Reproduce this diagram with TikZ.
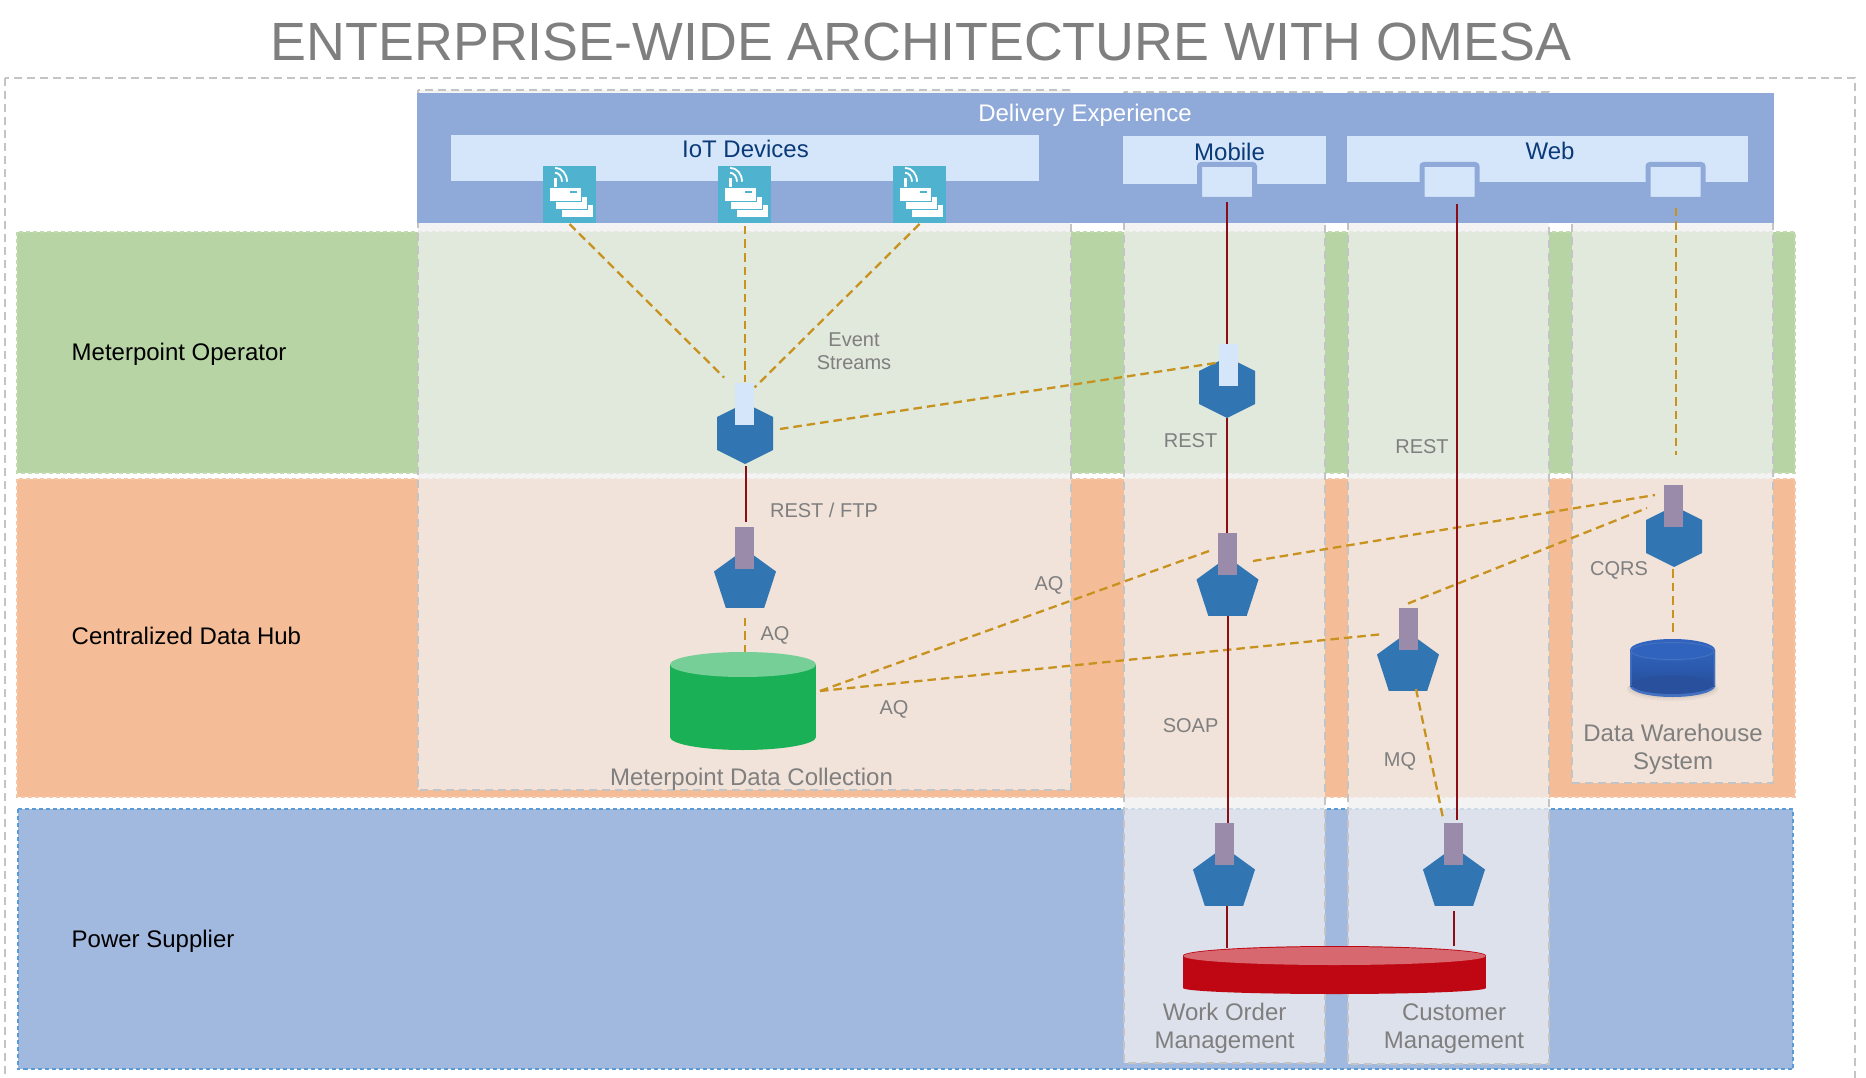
\documentclass[tikz,border=0pt]{standalone}
\usepackage{fontspec}
\setmainfont{Liberation Sans}
\usetikzlibrary{calc,shapes.geometric}
\definecolor{bandblue}{HTML}{8FA9D9}
\definecolor{lightbox}{HTML}{D5E6FB}
\definecolor{navytxt}{HTML}{0B3A78}
\definecolor{greentone}{HTML}{B7D4A4}
\definecolor{orangetone}{HTML}{F4BD98}
\definecolor{bluetone}{HTML}{A1B8DF}
\definecolor{bluedash}{HTML}{5B9BD5}
\definecolor{framegray}{HTML}{C4C4C4}
\definecolor{overlaygray}{HTML}{F0F0F0}
\definecolor{graytxt}{HTML}{7F7F7F}
\definecolor{teal}{HTML}{4FB3CF}
\definecolor{svcblue}{HTML}{3275B3}
\definecolor{purpletab}{HTML}{9B8BAB}
\definecolor{linkred}{HTML}{8B0E16}
\definecolor{linkgold}{HTML}{C8921E}
\definecolor{cylgreen}{HTML}{1AB055}
\definecolor{cylgreentop}{HTML}{75CF97}
\definecolor{cylred}{HTML}{BE0712}
\definecolor{cylredtop}{HTML}{D7686F}
\definecolor{cylblue}{HTML}{2F63BD}
\definecolor{cylbluedark}{HTML}{28509C}
\definecolor{cylbluerim}{HTML}{4470C0}
\tikzset{
  lane/.style={inner sep=0pt,outer sep=0pt,line width=1.5pt,dash pattern=on 4pt off 3pt},
  column/.style={draw=framegray,fill=overlaygray,fill opacity=.75,line width=1.5pt,dash pattern=on 8pt off 5pt},
  hostbox/.style={fill=lightbox,inner sep=0pt,outer sep=0pt},
  uisq/.style={fill=lightbox,draw=bandblue,line width=5pt,rounded corners=2pt,inner sep=0pt,outer sep=0pt,minimum width=55pt,minimum height=35pt},
  tabnode/.style={inner sep=0pt,outer sep=0pt,minimum width=19pt,minimum height=42pt},
  hexnode/.style={inner sep=0pt,outer sep=0pt,minimum width=56pt,minimum height=61pt},
  pentnode/.style={regular polygon,regular polygon sides=5,minimum size=65.2pt,inner sep=0pt,outer sep=0pt,fill=svcblue},
  iconnode/.style={fill=teal,inner sep=0pt,outer sep=0pt,minimum width=53pt,minimum height=57pt},
  cylnode/.style={inner sep=0pt,outer sep=0pt},
  dl/.style={draw=linkgold,line width=2.3pt,dash pattern=on 8.5pt off 5pt},
  dlv/.style={draw=linkgold,line width=2pt,dash pattern=on 8.5pt off 5pt},
  rl/.style={draw=linkred,line width=2pt},
  lbl/.style={text=graytxt,inner sep=0pt,align=center,font=\fontsize{20}{23}\selectfont},
  lblbig/.style={text=graytxt,inner sep=0pt,align=center,font=\fontsize{24}{28}\selectfont},
  lanelbl/.style={text=black,inner sep=0pt,anchor=west,font=\fontsize{24}{28}\selectfont},
  navylbl/.style={text=navytxt,inner sep=0pt,font=\fontsize{24}{28}\selectfont}
}
\newcommand{\hexfill}[1]{\fill[svcblue] (#1.north) -- ($(#1.north east)+(0,14)$) -- ($(#1.south east)+(0,-14)$) -- (#1.south) -- ($(#1.south west)+(0,-14)$) -- ($(#1.north west)+(0,14)$) -- cycle;}
\newcommand{\glyph}[1]{%
  \begin{scope}[shift={(#1.north west)}]
    \draw[white,line width=1.8pt] (12,6.7) .. controls (16,6.7) and (19,11) .. (19,15.7);
    \draw[white,line width=1.8pt] (12,1.8) .. controls (19,1.8) and (24,8) .. (24,15.7);
    \fill[white] (11,12.3) rectangle (13.7,23);
    \fill[white,draw=teal,line width=.8pt] (18,38) rectangle (50.5,51);
    \fill[white,draw=teal,line width=.8pt] (12,30) rectangle (44.5,43);
    \fill[white,draw=teal,line width=.8pt] (6,21.5) rectangle (38.5,35);
    \fill[teal] (27,25.5) rectangle (34,27.5);
  \end{scope}}
\begin{document}
\begin{tikzpicture}[x=1pt,y=-1pt]
\useasboundingbox (0,0) rectangle (1866,1078);
\clip (0,0) rectangle (1866,1078);
\fill[white] (0,0) rectangle (1866,1078);
% title and frame
\node[text=graytxt,inner sep=0pt,font=\fontsize{53.8}{60}\selectfont] (title) at (921,42) {ENTERPRISE-WIDE ARCHITECTURE WITH OMESA};
\draw[draw=framegray,line width=1.5pt,dash pattern=on 8pt off 5pt] (5,78) rectangle (1855,1090);
% lanes
\draw[lane,draw=greentone!85!white,fill=greentone] (17,232) rectangle (1795,473);
\draw[lane,draw=orangetone!85!white,fill=orangetone] (17,479) rectangle (1795,797);
\draw[lane,draw=bluedash,fill=bluetone,line width=2pt] (17.5,809) rectangle (1793,1069);
% columns
\draw[column] (418,90) rectangle (1071,790);
\draw[column] (1124,92) rectangle (1325,1063);
\draw[column] (1348,92) rectangle (1549,1064);
\draw[column] (1572,120) rectangle (1773,783);
% delivery band
\node[fill=bandblue,inner sep=0pt,outer sep=0pt,minimum width=1357pt,minimum height=130.5pt] (band) at (1095.5,158) {};
\node[text=white,inner sep=0pt,font=\fontsize{24}{28}\selectfont] (bandtxt) at (1085,115.4) {Delivery Experience};
\node[hostbox,minimum width=588pt,minimum height=46pt] (iot) at (745,158) {};
\node[navylbl] (iottxt) at (745.5,149) {IoT Devices};
\node[hostbox,minimum width=203pt,minimum height=48pt] (mobile) at (1224.5,160) {};
\node[navylbl] (mobtxt) at (1229.5,152) {Mobile};
\node[hostbox,minimum width=401pt,minimum height=46pt] (web) at (1547.5,159) {};
\node[navylbl] (webtxt) at (1550,151) {Web};
\node[uisq] (msq) at (1227,182) {};
\node[uisq] (wsq1) at (1449.5,182) {};
\node[uisq] (wsq2) at (1675.5,182) {};
% icons
\node[iconnode] (icon1) at (569.5,194.5) {};
\node[iconnode] (icon2) at (744.5,194.5) {};
\node[iconnode] (icon3) at (919.5,194.5) {};
\glyph{icon1}\glyph{icon2}\glyph{icon3}
% services
\node[hexnode] (hex1) at (745,433.5) {};
\hexfill{hex1}
\node[tabnode,fill=lightbox] (tab1) at (744.5,403.5) {};
\node[hexnode] (hex2) at (1227,387.5) {};
\hexfill{hex2}
\node[tabnode,fill=lightbox] (tab2) at (1228,365) {};
\node[hexnode] (hex3) at (1674,536.5) {};
\hexfill{hex3}
\node[tabnode,fill=purpletab] (tabh3) at (1673.5,506) {};
\node[pentnode] (pent1) at (745,581.6) {};
\node[tabnode,fill=purpletab] (tabp1) at (744.5,548) {};
\node[pentnode] (pent2) at (1227.5,589.6) {};
\node[tabnode,fill=purpletab] (tabp2) at (1227.5,554) {};
\node[pentnode] (pent3) at (1408,664.6) {};
\node[tabnode,fill=purpletab] (tabp3) at (1408.5,628.5) {};
\node[pentnode] (pent4) at (1224,879.6) {};
\node[tabnode,fill=purpletab] (tabp4) at (1224.5,844) {};
\node[pentnode] (pent5) at (1454,879.6) {};
\node[tabnode,fill=purpletab] (tabp5) at (1453.5,844) {};
% green cylinder
\node[cylnode,minimum width=146pt,minimum height=98pt] (gcyl) at (743,701) {};
\fill[cylgreen] (670,664.5) rectangle (816,737);
\fill[cylgreen] (743,737) ellipse [x radius=73pt,y radius=13pt];
\fill[cylgreentop] (743,664.5) ellipse [x radius=73pt,y radius=12.5pt];
% red cylinder
\node[cylnode,minimum width=303pt,minimum height=48pt] (rcyl) at (1334.5,970) {};
\fill[cylred] (1183,955.5) rectangle (1486,988);
\fill[cylred] (1334.5,988) ellipse [x radius=151.5pt,y radius=6pt];
\fill[cylred] (1334.5,955.5) ellipse [x radius=151.5pt,y radius=9.5pt];
\fill[cylredtop] (1334.5,956) ellipse [x radius=151pt,y radius=9pt];
% blue cylinder
\node[cylnode,minimum width=85pt,minimum height=58pt] (bcyl) at (1672.5,668) {};
\fill[black,opacity=.04] (1672.5,689) ellipse [x radius=46pt,y radius=12pt];
\fill[black,opacity=.05] (1672.5,688) ellipse [x radius=44pt,y radius=10.5pt];
\fill[cylbluerim] (1672.5,686) ellipse [x radius=42.5pt,y radius=11pt];
\fill[cylbluedark] (1672.5,684.5) ellipse [x radius=41pt,y radius=9.5pt];
\shade[top color=cylblue,bottom color=cylbluedark] (1630,650) rectangle (1715,686);
\fill[cylbluedark] (1672.5,684.5) ellipse [x radius=41pt,y radius=9pt];
\fill[cylbluerim] (1630,650) rectangle (1631.5,686) (1713.5,650) rectangle (1715,686);
\fill[cylblue] (1672.5,650) ellipse [x radius=42.5pt,y radius=11pt];
\draw[cylbluerim,line width=1pt] (1672.5,651) ellipse [x radius=41.5pt,y radius=8.5pt];
% dashed connectors
\draw[dl] ($(icon1.south)+(0,1)$) -- ($(tab1.north west)+(-11,-5)$);
\draw[dlv] ($(icon2.south)+(.5,3)$) -- ($(tab1.north)+(.5,-1)$);
\draw[dl] ($(icon3.south)+(0,1)$) -- ($(tab1.north east)+(.6,5)$);
\draw[dl] ($(hex1.east)+(7,-4.5)$) -- ($(tab2.west)+(-3,-2)$);
\draw[dlv] ($(pent1.south)+(0,10)$) -- (pent1.south |- gcyl.north);
\draw[dl] ($(gcyl.east)+(4,-10)$) -- ($(tabp2.west)+(-9,-3)$);
\draw[dl] ($(gcyl.east)+(4,-10)$) -- ($(tabp3.west)+(-15,5.5)$);
\draw[dl] ($(tabp2.east)+(16,7)$) -- ($(tabh3.west)+(-9,-11)$);
\draw[dl] ($(tabp3.north)+(-.5,-4)$) -- ($(tabh3.west)+(-17,2)$);
\draw[dl] ($(pent3.south)+(8,-2)$) -- ($(tabp5.north)+(-10.5,-5)$);
\draw[dlv] ($(hex3.south)+(-1,2)$) -- ($(hex3.south |- bcyl.north)+(-1,-7)$);
\coordinate (cqrsend) at (1676,455);
\draw[dlv] ($(wsq2.south)+(.5,8.5)$) -- (cqrsend);
% solid connectors
\draw[rl] ($(msq.south)+(0,2.5)$) -- (msq.south |- tab2.north);
\draw[rl] (hex2.south) -- (hex2.south |- tabp2.north);
\draw[rl] (pent2.south) -- (pent2.south |- tabp4.north);
\draw[rl] ($(pent4.south)+(3,0)$) -- ($(pent4.south |- rcyl.north)+(3,2)$);
\draw[rl] ($(wsq1.south)+(7.5,4.5)$) -- ($(wsq1.south |- tabp5.north)+(7.5,-3)$);
\draw[rl] ($(pent5.south)+(0,5)$) -- (pent5.south |- rcyl.north);
\draw[rl] ($(hex1.south)+(.5,2)$) -- ($(tabp1.north)+(1,-5)$);
% labels
\node[lanelbl] (l1) at (71.5,354.4) {Meterpoint Operator};
\node[lanelbl] (l2) at (71.5,635.5) {Centralized Data Hub};
\node[lanelbl] (l3) at (71.5,941.4) {Power Supplier};
\node[lbl] (evt) at (854,351.5) {Event\\Streams};
\node[lbl] (rf) at (824,510) {REST / FTP};
\node[lbl] (aq1) at (775,635.4) {AQ};
\node[lbl] (aq2) at (1049,585.2) {AQ};
\node[lbl] (aq3) at (894,709.4) {AQ};
\node[lbl] (soap) at (1190.6,726) {SOAP};
\node[lbl] (rest1) at (1190.6,441) {REST};
\node[lbl] (rest2) at (1422,447) {REST};
\node[lbl] (cqrs) at (1619,570.4) {CQRS};
\node[lbl] (mq) at (1400,761.4) {MQ};
\node[lblbig] (mdc) at (751.5,779.4) {Meterpoint Data Collection};
\node[lblbig] (dw) at (1673,749.4) {Data Warehouse\\System};
\node[lblbig] (wo) at (1224.6,1028.4) {Work Order\\Management};
\node[lblbig] (cm) at (1454,1028.4) {Customer\\Management};
\end{tikzpicture}
\end{document}
